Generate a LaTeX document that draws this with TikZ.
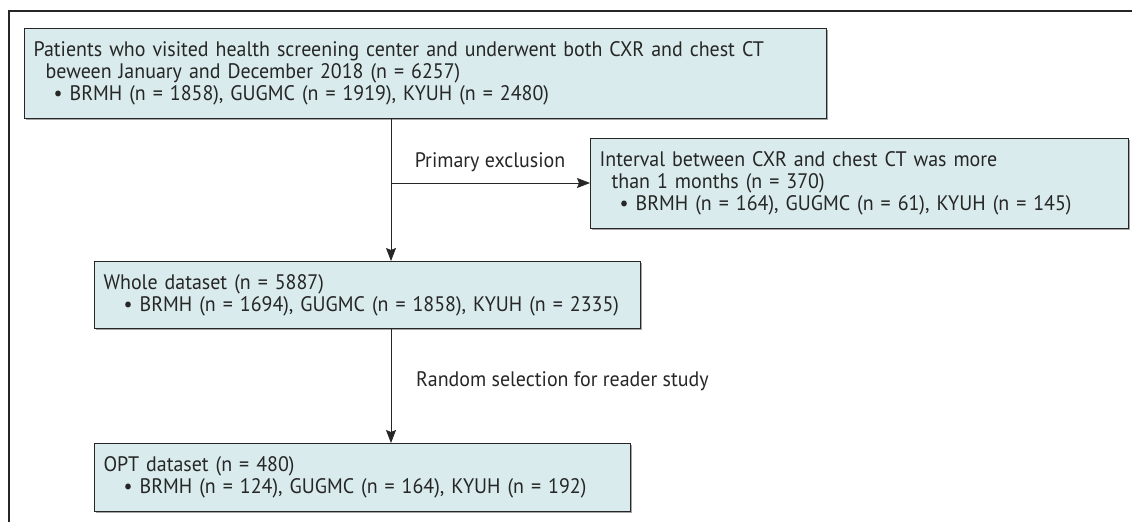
\documentclass[tikz,border=0pt]{standalone}
\usepackage{fontspec}
\setmainfont[FakeStretch=0.95]{PT Sans}
\usetikzlibrary{arrows.meta,shadows}

\definecolor{boxfill}{HTML}{D9EBEC}
\definecolor{ink}{HTML}{262626}

\begin{document}
\begin{tikzpicture}[x=1pt,y=-1pt,
  every node/.style={font=\fontsize{21}{21.8}\selectfont, text=ink},
  flowbox/.style={draw=ink, line width=1.2pt, fill=boxfill, anchor=north west,
    align=left, inner xsep=9pt, inner ysep=0pt,
    drop shadow={shadow xshift=1.5pt, shadow yshift=-1.5pt, fill=gray!70, opacity=1}},
  flow/.style={draw=ink, line width=0.8pt, -{Stealth[length=13pt,width=10pt,inset=2pt]}},
  caption/.style={inner sep=0pt},
]
\useasboundingbox (0,0) rectangle (1132,522);

% outer frame
\draw[ink, line width=1.3pt] (9,522) -- (9,11) -- (1132,11);

% boxes
\node[flowbox, text width=784pt, minimum height=90pt] (screen) at (24,28)
  {\mbox{Patients who visited health screening center and underwent both CXR and chest CT}\\
   \hspace*{12pt}beween January and December 2018 (n = 6257)\\
   \hspace*{20pt}• BRMH (n = 1858), GUGMC (n = 1919), KYUH (n = 2480)};

\node[flowbox, text width=520pt, minimum height=90pt] (excl) at (590,138)
  {Interval between CXR and chest CT was more\\
   \hspace*{12pt}than 1 months (n = 370)\\
   \hspace*{20pt}\mbox{• BRMH (n = 164), GUGMC (n = 61), KYUH (n = 145)}};

\node[flowbox, text width=528pt, minimum height=67pt] (whole) at (94,261)
  {Whole dataset (n = 5887)\\
   \hspace*{20pt}\mbox{• BRMH (n = 1694), GUGMC (n = 1858), KYUH (n = 2335)}};

\node[flowbox, text width=518pt, minimum height=68pt] (opt) at (94,443)
  {OPT dataset (n = 480)\\
   \hspace*{20pt}\mbox{• BRMH (n = 124), GUGMC (n = 164), KYUH (n = 192)}};

% connectors
\coordinate (trunk) at (391,0);
\coordinate (split) at (391,183);
\draw[flow] (screen.south -| trunk) -- (whole.north -| trunk);
\draw[flow] (split) -- (split -| excl.west);
\draw[flow] (whole.south -| trunk) -- (opt.north -| trunk);

% connector labels
\node[caption, anchor=base] (lblexcl) at (490,167) {Primary exclusion};
\node[caption, anchor=base west] (lblrand) at (416,386) {Random selection for reader study};
\end{tikzpicture}
\end{document}
